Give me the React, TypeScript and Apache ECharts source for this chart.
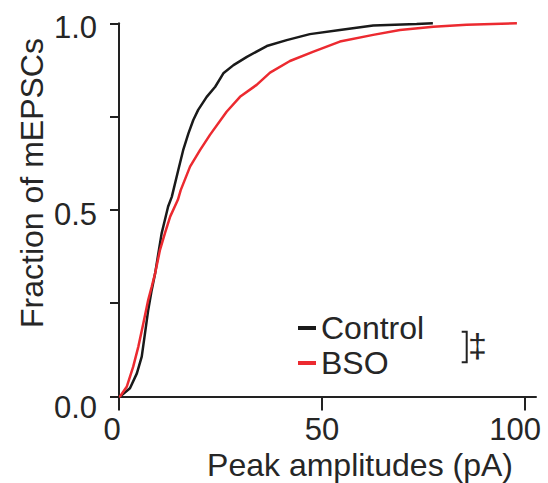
import React, { useEffect, useRef } from "react";
import * as echarts from "echarts";

// Cumulative fraction of mEPSC peak amplitudes
const controlAmp = [0, 0.25, 2.7, 4.4, 5.6, 6.4, 7.2, 8.05, 8.9, 9.7, 10.5, 11.3, 12.1, 13.0, 14.6, 15.8, 17.1, 18.3, 19.5, 21.6, 23.7, 25.7, 28.2, 31.5, 36.4, 41.3, 47.0, 54.4, 62.6, 73.3, 77.3];
const controlFrac = [0, 0, 0.022, 0.062, 0.107, 0.169, 0.232, 0.285, 0.33, 0.384, 0.437, 0.473, 0.509, 0.535, 0.607, 0.66, 0.705, 0.741, 0.768, 0.803, 0.83, 0.866, 0.888, 0.91, 0.939, 0.955, 0.971, 0.982, 0.994, 0.998, 1.0];

const bsoAmp = [0, 0.25, 1.9, 3.5, 4.75, 6.0, 7.2, 8.05, 8.9, 10.1, 11.3, 12.6, 14.5, 15.2, 17.5, 19.95, 22.4, 26.5, 29.8, 33.9, 37.2, 42.1, 47.9, 54.4, 62.6, 69.2, 77.4, 85.6, 98.0];
const bsoFrac = [0, 0, 0.026, 0.08, 0.133, 0.196, 0.259, 0.294, 0.33, 0.393, 0.437, 0.482, 0.527, 0.553, 0.616, 0.66, 0.701, 0.763, 0.803, 0.835, 0.868, 0.899, 0.924, 0.951, 0.969, 0.982, 0.991, 0.996, 1.0];

const seriesNames = ["Control", "BSO"];
const xTickValues = [0, 50, 100];
const yTickValues = [0, 0.5, 1];
const xTitle = "Peak amplitudes (pA)";
const yTitle = "Fraction of mEPSCs";
const sigMark = "‡";

const FONT = "'Liberation Sans', Arial, sans-serif";
const TEXT = "#262626";
const AXIS = "#222222";

export default function App() {
  const ref = useRef<HTMLDivElement>(null);
  useEffect(() => {
    if (!ref.current) return;
    const chart = echarts.init(ref.current, null, { renderer: "svg" });
    const zip = (xs: number[], ys: number[]) => xs.map((x, i) => [x, ys[i]]);
    chart.setOption({
      animation: false,
      grid: { left: 119, right: 12, top: 23.3, bottom: 86.5, containLabel: false },
      legend: {
        orient: "vertical",
        left: 298,
        top: 312,
        padding: 0,
        itemGap: 3,
        itemWidth: 18,
        itemHeight: 4,
        icon: "rect",
        data: seriesNames,
        textStyle: { fontSize: 32, color: TEXT, fontFamily: FONT },
      },
      xAxis: {
        type: "value",
        min: 0,
        max: 102.7,
        axisLine: { show: true, lineStyle: { color: AXIS, width: 2 } },
        axisTick: { show: true, length: 14, customValues: xTickValues, lineStyle: { color: AXIS, width: 2 } },
        splitLine: { show: false },
        axisLabel: {
          customValues: xTickValues,
          margin: 17,
          fontSize: 31,
          color: TEXT,
          fontFamily: FONT,
          formatter: (v: number) => (v === 0 ? "{a|0}" : v === 100 ? "{c|100}" : "{b|" + v + "}"),
          rich: {
            a: { fontSize: 31, color: TEXT, fontFamily: FONT, padding: [0, 14, 0, 0] },
            b: { fontSize: 31, color: TEXT, fontFamily: FONT },
            c: { fontSize: 31, color: TEXT, fontFamily: FONT, padding: [0, 20, 0, 0] },
          },
        },
      },
      yAxis: {
        type: "value",
        min: 0,
        max: 1,
        interval: 0.25,
        axisLine: { show: true, lineStyle: { color: AXIS, width: 2 } },
        axisTick: { show: true, length: 9, lineStyle: { color: AXIS, width: 2 } },
        splitLine: { show: false },
        axisLabel: {
          customValues: yTickValues,
          margin: 22,
          fontSize: 31,
          color: TEXT,
          fontFamily: FONT,
          formatter: (v: number) => (v === 0 ? "{z|0.0}" : "{n|" + v.toFixed(1) + "}"),
          rich: {
            z: { fontSize: 31, color: TEXT, fontFamily: FONT, padding: [21, 0, 0, 0] },
            n: { fontSize: 31, color: TEXT, fontFamily: FONT, padding: [9, 0, 0, 0] },
          },
        },
      },
      series: [
        {
          name: seriesNames[0],
          type: "line",
          data: zip(controlAmp, controlFrac),
          showSymbol: false,
          symbol: "none",
          color: "#1a1a1a",
          lineStyle: { color: "#1a1a1a", width: 2.5 },
          z: 2,
        },
        {
          name: seriesNames[1],
          type: "line",
          data: zip(bsoAmp, bsoFrac),
          showSymbol: false,
          symbol: "none",
          color: "#ec2a30",
          lineStyle: { color: "#ec2a30", width: 2.5 },
          z: 3,
        },
      ],
      graphic: [
        {
          type: "text",
          x: 31.7,
          y: 183,
          rotation: Math.PI / 2,
          style: { text: yTitle, fontSize: 32, fill: TEXT, fontFamily: FONT, align: "center", verticalAlign: "middle" },
        },
        {
          type: "text",
          x: 360,
          y: 465,
          style: { text: xTitle, fontSize: 32, fill: TEXT, fontFamily: FONT, align: "center", verticalAlign: "middle" },
        },
        {
          type: "polyline",
          shape: { points: [[461.7, 331.7], [466.7, 331.7], [466.7, 362.3], [461.7, 362.3]] },
          style: { stroke: AXIS, lineWidth: 2, fill: "none" },
        },
        {
          type: "text",
          x: 477.5,
          y: 344.5,
          style: { text: sigMark, fontSize: 34, fill: TEXT, fontFamily: FONT, align: "center", verticalAlign: "middle" },
        },
      ],
    });
    return () => chart.dispose();
  }, []);
  return <div ref={ref} style={{ position: "absolute", left: 0, top: 0, width: 548, height: 483 }} />;
}
